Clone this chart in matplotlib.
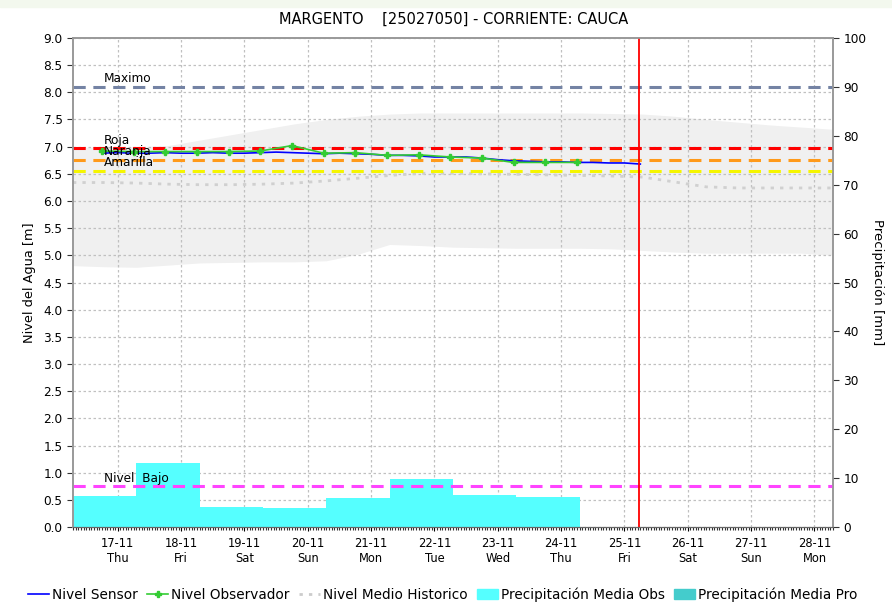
import numpy as np
import pandas as pd
import matplotlib
matplotlib.use("Agg")
import matplotlib.pyplot as plt
import matplotlib.dates as mdates
from matplotlib.lines import Line2D
from matplotlib.patches import Patch

plt.rcParams['font.family'] = ['DejaVu Sans']

# ---- data ----
t_start = pd.Timestamp("2022-11-16 07:00")
t_end = pd.Timestamp("2022-11-28 07:00")
t_now = pd.Timestamp("2022-11-25 05:30")

# historical band, every 12 h from t_start
hist_time = pd.date_range(t_start, t_end, freq="12h")
hist_upper = [6.98, 7.00, 7.00, 7.02, 7.12, 7.22, 7.32, 7.42, 7.50, 7.56, 7.60, 7.62, 7.62,
              7.62, 7.62, 7.62, 7.62, 7.61, 7.60, 7.56, 7.50, 7.45, 7.40, 7.36, 7.32]
hist_lower = [4.81, 4.79, 4.78, 4.82, 4.86, 4.87, 4.88, 4.88, 4.90, 5.02, 5.20, 5.18, 5.15,
              5.14, 5.13, 5.13, 5.13, 5.12, 5.09, 5.06, 5.04, 5.04, 5.04, 5.04, 5.00]
hist_mean = [6.34, 6.34, 6.33, 6.31, 6.30, 6.30, 6.31, 6.33, 6.37, 6.42, 6.47, 6.51, 6.51,
             6.50, 6.49, 6.48, 6.47, 6.46, 6.44, 6.35, 6.26, 6.24, 6.24, 6.24, 6.24]

# sensor, every 6 h
sensor_time = pd.date_range("2022-11-16 18:00", "2022-11-25 06:00", freq="6h")
sensor_level = [6.88, 6.89, 6.88, 6.88, 6.89, 6.88, 6.88, 6.89, 6.88, 6.88, 6.89, 6.90,
                6.89, 6.88, 6.87, 6.88, 6.87, 6.86, 6.84, 6.84, 6.83, 6.81, 6.81, 6.81,
                6.79, 6.76, 6.74, 6.73, 6.72, 6.72, 6.71, 6.71, 6.70, 6.70, 6.68]

# observer, 06:00 and 18:00
obs_time = pd.date_range("2022-11-16 18:00", "2022-11-24 06:00", freq="12h")
obs_level = [6.92, 6.91, 6.91, 6.91, 6.91, 6.92, 7.02, 6.88,
             6.89, 6.84, 6.85, 6.81, 6.79, 6.71, 6.71, 6.71]

# daily precipitation (mm), 07:00 to 07:00
precip_time = pd.date_range(t_start, periods=8, freq="D")
precip_mm = np.array([6.3, 13.1, 4.1, 3.9, 5.9, 9.8, 6.5, 6.1])

thresholds = {"Maximo": (8.10, "#7483a4"),
              "Roja": (6.97, "#ff0000"),
              "Naranja": (6.76, "#ff9a1a"),
              "Amarilla": (6.56, "#f5f500"),
              "Nivel  Bajo": (0.75, "#ff44ff")}

day_ticks = pd.date_range("2022-11-17", "2022-11-28", freq="D")
day_names = ["Thu", "Fri", "Sat", "Sun", "Mon", "Tue", "Wed", "Thu", "Fri", "Sat", "Sun", "Mon"]

# ---- figure ----
fig = plt.figure(figsize=(8.92, 6.03), dpi=100)
fig.patches.append(plt.Rectangle((0, 0.988), 1, 0.012, transform=fig.transFigure,
                                 color="#f3f8ee", zorder=0))
ax = fig.add_axes([0.0818, 0.126, 0.852, 0.811])
ax2 = ax.twinx()

ax.set_axisbelow(True)
ax.fill_between(hist_time, hist_lower, hist_upper, color="#f0f0f0", lw=0, zorder=0.2)
ax.plot(hist_time, hist_mean, color="#d0d0d0", lw=2, ls=(0, (1.2, 2.2)), zorder=2)

# precipitation drawn on level axis scale (100 mm == 9 m)
mm_to_m = 9.0 / 100.0
ax.bar(precip_time, precip_mm * mm_to_m, width=1.0, align="edge",
       color="#55ffff", lw=0, zorder=1)

for name, (val, col) in thresholds.items():
    ax.axhline(val, color=col, lw=2.2, ls=(0, (4, 2.5)), zorder=3)
    ax.text(0.041, val + 0.03, name, transform=ax.get_yaxis_transform(),
            fontsize=8.7, va="bottom", ha="left", zorder=6)

ax.plot(sensor_time, sensor_level, color="#0000ff", lw=1.2, zorder=4)
ax.plot(obs_time, obs_level, color="#33cc33", lw=1.2, marker="P", ms=4.5, zorder=5)
ax.axvline(t_now, color="#ff0000", lw=1.3, zorder=6)

ax.set_xlim(t_start, t_end)
ax.set_ylim(0, 9)
ax.set_yticks(np.arange(0, 9.01, 0.5))
ax.set_yticklabels([f"{v:.1f}" for v in np.arange(0, 9.01, 0.5)])
ax.set_xticks(day_ticks)
ax.set_xticklabels([f"{d.strftime('%d-%m')}\n{n}" for d, n in zip(day_ticks, day_names)])
ax.xaxis.set_minor_locator(mdates.HourLocator())
ax.tick_params(axis="x", which="minor", length=2, width=0.8, color="#333333")
ax.tick_params(axis="x", which="major", length=3, labelsize=8.3, pad=4)
ax.tick_params(axis="y", length=4, labelsize=8.7, color="#333333")
ax.grid(True, color="#c0c0c0", ls=(0, (2, 2)), lw=0.9)

ax2.set_ylim(0, 100)
ax2.set_yticks(np.arange(0, 101, 10))
ax2.tick_params(axis="y", length=4, labelsize=8.7, color="#333333")

for a in (ax, ax2):
    for s in ("left", "right", "top"):
        a.spines[s].set_color("#999999")
        a.spines[s].set_linewidth(1.2)
    a.spines["bottom"].set_color("#666666")

ax.set_ylabel("Nivel del Agua [m]", fontsize=9.3, labelpad=5)
ax2.set_ylabel("Precipitación [mm]", fontsize=9.5, rotation=270, labelpad=13)
fig.text(0.508, 0.968, "MARGENTO    [25027050] - CORRIENTE: CAUCA", ha="center",
         va="center", fontsize=10.5)

handles = [Line2D([], [], color="#0000ff", lw=1.2),
           Line2D([], [], color="#33cc33", lw=1.2, marker="P", ms=4),
           Line2D([], [], color="#cccccc", lw=2, ls=(0, (1.2, 2.2))),
           Patch(color="#55ffff"),
           Patch(color="#44cccc")]
labels = ["Nivel Sensor", "Nivel Observador", "Nivel Medio Historico",
          "Precipitación Media Obs", "Precipitación Media Pro"]
fig.legend(handles, labels, loc="lower left", bbox_to_anchor=(0.018, -0.018), ncol=5,
           frameon=False, fontsize=9.8, handlelength=1.5, handletextpad=0.25,
           columnspacing=0.7)

fig.savefig("out.png", dpi=100)
